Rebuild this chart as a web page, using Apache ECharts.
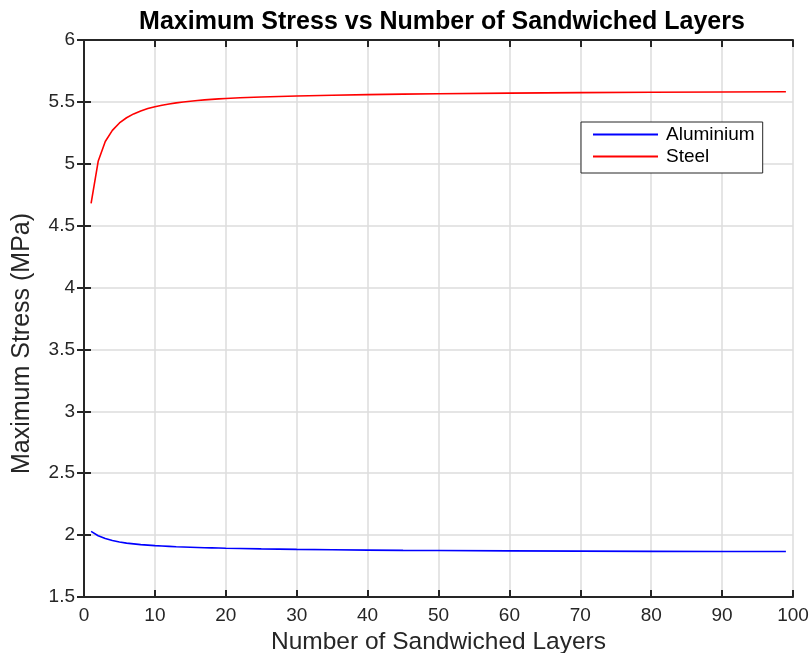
<!DOCTYPE html>
<html>
<head>
<meta charset="utf-8">
<script src="https://cdn.jsdelivr.net/npm/echarts@6/dist/echarts.min.js"></script>
<style>html,body{margin:0;padding:0;background:#fff;}#c{width:812px;height:653px;}</style>
</head>
<body>
<div id="c"></div>
<script>
var layers = [1,2,3,4,5,6,7,8,9,10,11,12,13,14,15,16,17,18,19,20,22,25,30,35,40,45,50,60,70,80,90,99];
var aluminium = [2.03,1.995,1.972,1.956,1.944,1.935,1.929,1.923,1.919,1.915,1.912,1.909,1.906,1.904,1.902,1.900,1.898,1.897,1.896,1.894,1.892,1.889,1.885,1.882,1.879,1.877,1.876,1.873,1.871,1.869,1.868,1.867];
var steel = [4.68,5.02,5.18,5.27,5.33,5.372,5.403,5.427,5.446,5.461,5.473,5.483,5.492,5.499,5.505,5.511,5.516,5.520,5.524,5.527,5.533,5.540,5.548,5.554,5.559,5.563,5.566,5.571,5.575,5.578,5.580,5.582];
var seriesNames = ['Aluminium','Steel'];
var titleText = 'Maximum Stress vs Number of Sandwiched Layers';
var xName = 'Number of Sandwiched Layers';
var yName = 'Maximum Stress (MPa)';

function pairs(xs, ys){ return xs.map(function(x,i){ return [x, ys[i]]; }); }

var font = 'Liberation Sans, Arial, Helvetica, sans-serif';
var axisCol = '#262626';
var chart = echarts.init(document.getElementById('c'), null, {renderer:'canvas'});
chart.setOption({
  animation: false,
  backgroundColor: '#fff',
  title: {
    text: titleText, left: 437, top: 5, textAlign: 'center',
    textStyle: {fontFamily: font, fontSize: 25, fontWeight: 'bold', color: '#000'}
  },
  legend: {
    orient: 'vertical', left: 581, top: 122,
    padding: [3, 8, 7, 12], itemGap: 3,
    itemWidth: 65, itemHeight: 2, icon: 'rect',
    borderColor: '#262626', borderWidth: 1, backgroundColor: '#fff',
    textStyle: {fontFamily: font, fontSize: 19, color: '#000', padding: [0,0,0,3]},
    data: seriesNames
  },
  grid: {left: 84, right: 19, top: 40, bottom: 56, containLabel: false, outerBoundsMode: 'none'},
  xAxis: [{
    type: 'value', min: 0, max: 100, interval: 10, position: 'bottom',
    name: xName, nameLocation: 'middle', nameGap: 26,
    nameTextStyle: {fontFamily: font, fontSize: 24.5, color: axisCol},
    axisLine: {show: true, lineStyle: {color: axisCol, width: 2}},
    axisTick: {show: true, inside: true, length: 7, lineStyle: {color: axisCol, width: 2}},
    axisLabel: {fontFamily: font, fontSize: 19, color: axisCol, margin: 9},
    splitLine: {show: true, lineStyle: {color: '#dcdcdc', width: 1.5}}
  },{
    type: 'value', min: 0, max: 100, interval: 10, position: 'top',
    axisLine: {show: true, lineStyle: {color: axisCol, width: 2}},
    axisTick: {show: true, inside: true, length: 7, lineStyle: {color: axisCol, width: 2}},
    axisLabel: {show: false}, splitLine: {show: false}
  }],
  yAxis: [{
    type: 'value', min: 1.5, max: 6, interval: 0.5, position: 'left',
    name: yName, nameLocation: 'middle', nameGap: 49, nameRotate: 90,
    nameTextStyle: {fontFamily: font, fontSize: 25, color: axisCol, padding: [0, 50, 0, 0]},
    axisLine: {show: true, lineStyle: {color: axisCol, width: 2}},
    axisTick: {show: true, inside: true, length: 7, lineStyle: {color: axisCol, width: 2}},
    axisLabel: {fontFamily: font, fontSize: 19, color: axisCol, margin: 9},
    splitLine: {show: true, lineStyle: {color: '#dcdcdc', width: 1.5}}
  },{
    type: 'value', min: 1.5, max: 6, interval: 0.5, position: 'right',
    axisLine: {show: true, lineStyle: {color: axisCol, width: 2}},
    axisTick: {show: true, inside: true, length: 7, lineStyle: {color: axisCol, width: 2}},
    axisLabel: {show: false}, splitLine: {show: false}
  }],
  series: [{
    name: seriesNames[0], type: 'line', data: pairs(layers, aluminium),
    showSymbol: false, smooth: false, lineStyle: {color: '#0000ff', width: 1.6}, itemStyle: {color: '#0000ff'}
  },{
    name: seriesNames[1], type: 'line', data: pairs(layers, steel),
    showSymbol: false, smooth: false, lineStyle: {color: '#ff0000', width: 1.6}, itemStyle: {color: '#ff0000'}
  }]
});
</script>
</body>
</html>
